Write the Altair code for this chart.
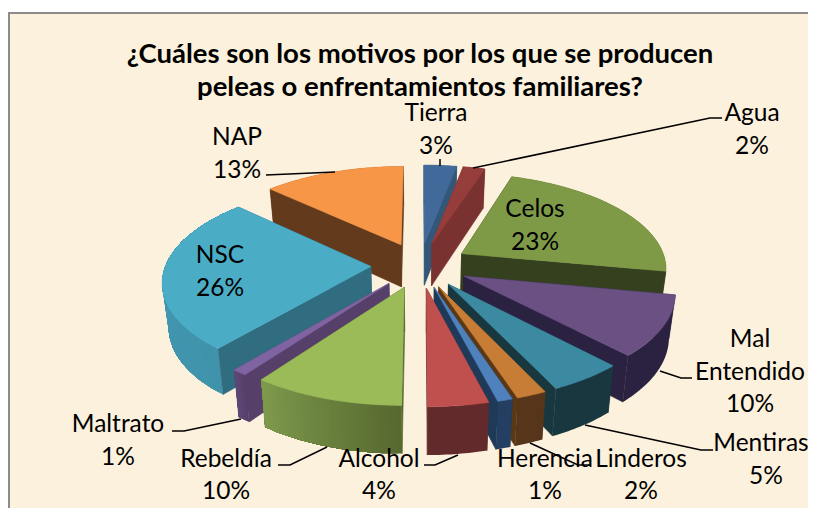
import math
import altair as alt

# ---- chart values ----
categories = ["Tierra", "Agua", "Celos", "Mal Entendido", "Mentiras", "Linderos",
              "Herencia", "Alcohol", "Rebeldía", "Maltrato", "NSC", "NAP"]
values = [3, 2, 23, 10, 5, 2, 1, 4, 10, 1, 26, 13]
top_colors = ["#416A9B", "#953D3B", "#7E9A47", "#6A5083", "#3C8AA2", "#C87D36",
              "#4F81BD", "#C0504D", "#9BBB59", "#8064A2", "#4BACC6", "#F79646"]
wall_colors = ["#335779", "#7A3231", "#35401E", "#2B2140", "#18373F", "#5B3815",
               "#1F3A59", "#622A2A", "#56682F", "#563F69", "#316D81", "#633A1C"]
rim_from = ["#335779", "#7A3231", "#35401E", "#2B2140", "#18373F", "#56351A",
            "#253F62", "#622A2A", "#56682F", "#563F69", "#3F93AB", "#633A1C"]
rim_to = ["#335779", "#7A3231", "#35401E", "#2B2140", "#18373F", "#56351A",
          "#253F62", "#622A2A", "#7E9A4C", "#5F4878", "#469DB6", "#633A1C"]
paint_order = ["Tierra", "Agua", "NAP", "Celos", "NSC", "Mal Entendido", "Mentiras",
               "Linderos", "Herencia", "Maltrato", "Rebeldía", "Alcohol"]

title_lines = ["¿Cuáles son los motivos por los que se producen",
               "peleas o enfrentamientos familiares?"]
title_x = [420, 420]
title_y = [54, 87]

label_text = ["Tierra", "3%", "Agua", "2%", "NAP", "13%", "Celos", "23%", "NSC", "26%",
              "Mal", "Entendido", "10%", "Mentiras", "5%", "Linderos", "2%",
              "Herencia", "1%", "Alcohol", "4%", "Rebeldía", "10%", "Maltrato", "1%"]
label_x = [436, 436, 752, 752, 237, 237, 535, 535, 220, 220,
           750, 750, 750, 761, 766, 641, 641, 545, 545, 379, 379, 226, 226, 118, 118]
label_y = [112, 145, 112, 145, 136, 169, 208, 241, 254, 287,
           338, 371, 403, 442, 475, 458, 490, 458, 490, 458, 490, 458, 490, 423, 456]

leaders = {
    "Tierra": ([440, 440], [159, 166]),
    "Agua": ([722, 710, 473], [118, 118, 168]),
    "NAP": ([266, 335], [175, 172]),
    "Maltrato": ([172, 184, 241], [431, 431, 419]),
    "Rebeldía": ([278, 290, 327], [465, 465, 447]),
    "Alcohol": ([424, 435, 458], [465, 465, 455]),
    "Linderos": ([591, 578, 530], [465, 465, 443]),
    "Mentiras": ([713, 701, 585], [450, 450, 425]),
    "Mal Entendido": ([692, 681, 660], [378, 378, 371]),
}

# ---- view of the tilted disc ----
CX, CY = 420, 265
R, RQ = 205, 94.6
PERSP = 0.14
EXPLODE = 0.24
THICK = 44
SHRINK = 0.975
OFF = 8  # page margin


def project(X, Y, low=False):
    s = 1 / (1 + PERSP * Y)
    if low:
        s2 = s * SHRINK
        return [CX + R * X * s2 - OFF, CY + (-RQ * Y + THICK) * s2 - OFF]
    return [CX + R * X * s - OFF, CY - RQ * Y * s - OFF]


def feature(points, fill, seam=0.6):
    return {"type": "Feature", "properties": {"fill": fill, "seam": seam},
            "geometry": {"type": "Polygon", "coordinates": [points + [points[0]]]}}


def mix(a, b, t):
    ca = [int(a[i:i + 2], 16) for i in (1, 3, 5)]
    cb = [int(b[i:i + 2], 16) for i in (1, 3, 5)]
    return "#%02x%02x%02x" % tuple(round(p + (q - p) * t) for p, q in zip(ca, cb))


total = sum(values)
starts = {}
run = 0
for c, v in zip(categories, values):
    starts[c] = (run / total, (run + v) / total)
    run += v

features = []
for name in paint_order:
    i = categories.index(name)
    a, b = starts[name]
    ta, tb = a * 2 * math.pi, b * 2 * math.pi
    tm = (ta + tb) / 2
    ox, oy = EXPLODE * math.sin(tm), EXPLODE * math.cos(tm)
    n = max(6, values[i] * 4)
    arc = [(ox + math.sin(ta + (tb - ta) * j / n), oy + math.cos(ta + (tb - ta) * j / n))
           for j in range(n + 1)]
    walls = [arc[0], arc[-1]]
    walls.sort(key=lambda p: -p[1])
    back, front = walls

    def wall(p):
        return feature([project(ox, oy), project(*p), project(*p, low=True),
                        project(ox, oy, low=True)], wall_colors[i])

    features.append(wall(back))
    # nested bands: each one overpaints the rest of the rim, so no seams show
    steps = n if rim_from[i] != rim_to[i] else 1
    for j in range(steps):
        part = arc[j * n // steps:]
        features.append(feature([project(*p) for p in part] +
                                [project(*p, low=True) for p in reversed(part)],
                                mix(rim_from[i], rim_to[i], (j + 0.5) / steps), seam=0))
    features.append(wall(front))
    features.append(feature([project(ox, oy)] + [project(*p) for p in arc], top_colors[i]))

background = [feature([[1, 5], [820, 5], [820, 520], [1, 520]], "#FCF1DC")]

proj = dict(type="identity", scale=1, translate=[0, 0])

bg_layer = alt.Chart(alt.InlineData(values=background)).mark_geoshape(
    stroke="#8C8C8C", strokeWidth=2, opacity=1
).encode(fill=alt.Fill("properties.fill:N", scale=None)).project(**proj)

pie_layer = alt.Chart(alt.InlineData(values=features)).mark_geoshape(
    opacity=1, fillOpacity=1, strokeOpacity=1
).encode(
    fill=alt.Fill("properties.fill:N", scale=None),
    stroke=alt.Stroke("properties.fill:N", scale=None),
    strokeWidth=alt.StrokeWidth("properties.seam:Q", scale=None),
).project(**proj)

xs = alt.Scale(domain=[8, 808], range=[0, 800])
ys = alt.Scale(domain=[8, 508], range=[0, 500])

leader_rows = [{"who": k, "o": j, "x": x, "y": y}
               for k, (lx, ly) in leaders.items()
               for j, (x, y) in enumerate(zip(lx, ly))]
leader_layer = alt.Chart(alt.InlineData(values=leader_rows)).mark_line(
    color="#000000", strokeWidth=1.5, clip=False
).encode(
    x=alt.X("x:Q", scale=xs, axis=None),
    y=alt.Y("y:Q", scale=ys, axis=None),
    detail="who:N", order="o:Q",
)

label_rows = [{"t": t, "x": x, "y": y} for t, x, y in zip(label_text, label_x, label_y)]
label_layer = alt.Chart(alt.InlineData(values=label_rows)).mark_text(
    font="Lato", fontSize=24.5, color="#000000", align="center", baseline="middle", dy=1.5
).encode(
    x=alt.X("x:Q", scale=xs, axis=None),
    y=alt.Y("y:Q", scale=ys, axis=None),
    text="t:N",
)

title_rows = [{"t": t, "x": x, "y": y} for t, x, y in zip(title_lines, title_x, title_y)]
title_layer = alt.Chart(alt.InlineData(values=title_rows)).mark_text(
    font="Lato", fontSize=27.5, fontWeight="bold", color="#000000",
    align="center", baseline="middle", dy=1
).encode(
    x=alt.X("x:Q", scale=xs, axis=None),
    y=alt.Y("y:Q", scale=ys, axis=None),
    text="t:N",
)

chart = alt.layer(bg_layer, pie_layer, leader_layer, label_layer, title_layer).resolve_scale(
    x="shared", y="shared"
).properties(
    width=800, height=500, padding=0, autosize=alt.AutoSizeParams(type="none"),
    background="#FFFFFF",
).configure_view(stroke=None)

chart.save("out.html", embed_options={"renderer": "svg", "actions": False})
